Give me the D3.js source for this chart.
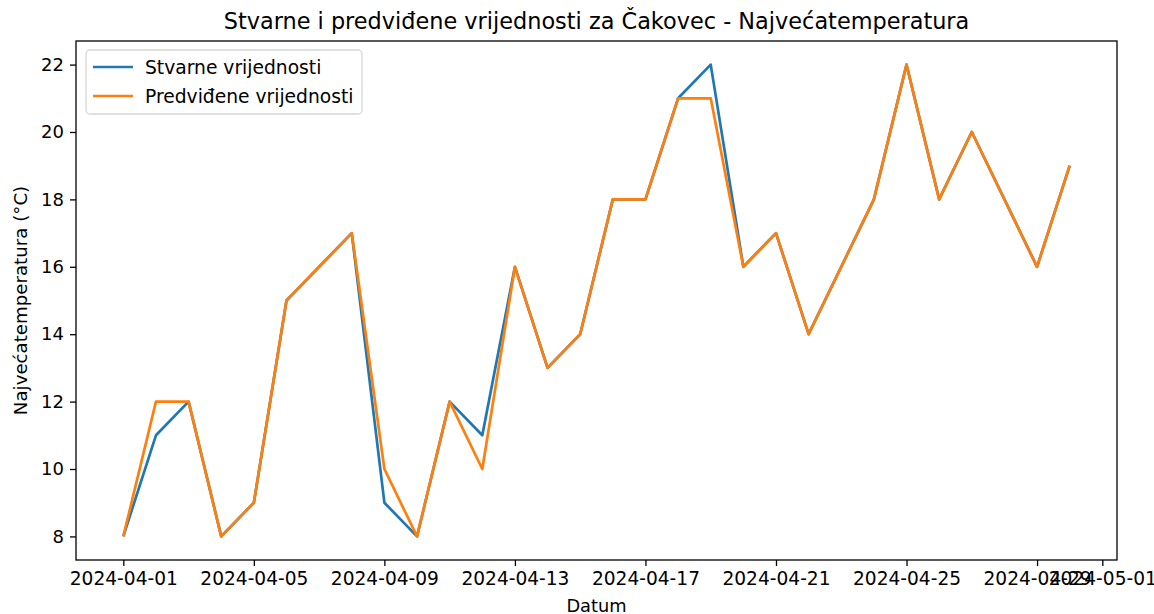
<!DOCTYPE html>
<html>
<head>
<meta charset="utf-8">
<script src="https://cdn.jsdelivr.net/npm/d3@7"></script>
<style>
  html, body { margin: 0; padding: 0; background: #fff; }
  svg { display: block; font-family: "DejaVu Sans", sans-serif; }
  .axis text { fill: #000; }
  .axis line { stroke: #000; stroke-width: 1.3px; }
  .axis .domain { display: none; }
</style>
</head>
<body>
<svg id="chart" width="1154" height="614"></svg>
<script>
// daily max temperature, Čakovec, April 2024
var dates = ["2024-04-01","2024-04-02","2024-04-03","2024-04-04","2024-04-05","2024-04-06",
  "2024-04-08","2024-04-09","2024-04-10","2024-04-11","2024-04-12","2024-04-13","2024-04-14",
  "2024-04-15","2024-04-16","2024-04-17","2024-04-18","2024-04-19","2024-04-20","2024-04-21",
  "2024-04-22","2024-04-24","2024-04-25","2024-04-26","2024-04-27","2024-04-29","2024-04-30"];
var actual =    [8, 11, 12, 8, 9, 15, 17, 9, 8, 12, 11, 16, 13, 14, 18, 18, 21, 22, 16, 17, 14, 18, 22, 18, 20, 16, 19];
var predicted = [8, 12, 12, 8, 9, 15, 17, 10, 8, 12, 10, 16, 13, 14, 18, 18, 21, 21, 16, 17, 14, 18, 22, 18, 20, 16, 19];
var xTicks = ["2024-04-01","2024-04-05","2024-04-09","2024-04-13","2024-04-17","2024-04-21","2024-04-25","2024-04-29","2024-05-01"];
var yTicks = [8, 10, 12, 14, 16, 18, 20, 22];
var seriesNames = ["Stvarne vrijednosti", "Predviđene vrijednosti"];
var colors = ["#1f77b4", "#ff7f0e"];

(function () {
  var M = { t: 41, r: 37, b: 54, l: 76 };
  var W = 1154, H = 614, iw = W - M.l - M.r, ih = H - M.t - M.b;
  var parse = d3.utcParse("%Y-%m-%d"), fmt = d3.utcFormat("%Y-%m-%d");
  var xs = dates.map(parse);
  var span = xs[xs.length - 1] - xs[0];
  var x = d3.scaleUtc().domain([+xs[0] - span * 0.05, +xs[xs.length - 1] + span * 0.05]).range([0, iw]);
  var y = d3.scaleLinear().domain([7.3, 22.7]).range([ih, 0]);

  var svg = d3.select("#chart");
  var g = svg.append("g").attr("transform", "translate(" + M.l + "," + M.t + ")");

  // axes
  g.append("g").attr("class", "axis").attr("transform", "translate(0," + ih + ")")
    .call(d3.axisBottom(x).tickValues(xTicks.map(parse)).tickFormat(fmt).tickSize(6).tickPadding(6))
    .attr("font-size", 18.6).attr("font-family", null);
  g.append("g").attr("class", "axis")
    .call(d3.axisLeft(y).tickValues(yTicks).tickSize(6).tickPadding(6))
    .attr("font-size", 18).attr("font-family", null);

  // frame
  g.append("rect").attr("width", iw).attr("height", ih)
    .attr("fill", "none").attr("stroke", "#000").attr("stroke-width", 1.3);

  // lines
  var line = d3.line().x(function (d) { return x(d[0]); }).y(function (d) { return y(d[1]); });
  [actual, predicted].forEach(function (vals, i) {
    g.append("path").datum(xs.map(function (d, j) { return [d, vals[j]]; }))
      .attr("d", line).attr("fill", "none").attr("stroke", colors[i])
      .attr("stroke-width", 2.7).attr("stroke-linejoin", "round");
  });

  // labels
  svg.append("text").attr("x", M.l + iw / 2).attr("y", 29).attr("text-anchor", "middle")
    .attr("font-size", 22.4).text("Stvarne i predviđene vrijednosti za Čakovec - Najvećatemperatura");
  svg.append("text").attr("x", M.l + iw / 2).attr("y", 612).attr("text-anchor", "middle")
    .attr("font-size", 17.8).text("Datum");
  svg.append("text").attr("transform", "translate(27," + (M.t + ih / 2) + ") rotate(-90)")
    .attr("text-anchor", "middle").attr("font-size", 18.2).text("Najvećatemperatura (°C)");

  // legend
  var lg = g.append("g").attr("transform", "translate(10,9)");
  lg.append("rect").attr("width", 276).attr("height", 64).attr("rx", 4)
    .attr("fill", "#fff").attr("fill-opacity", 0.8).attr("stroke", "#d6d6d6").attr("stroke-width", 1.3);
  seriesNames.forEach(function (n, i) {
    var yy = 17 + i * 29;
    lg.append("line").attr("x1", 7).attr("x2", 47).attr("y1", yy).attr("y2", yy)
      .attr("stroke", colors[i]).attr("stroke-width", 2.7);
    lg.append("text").attr("x", 59).attr("y", yy + 6.5).attr("font-size", 18.7).text(n);
  });
})();
</script>
</body>
</html>
